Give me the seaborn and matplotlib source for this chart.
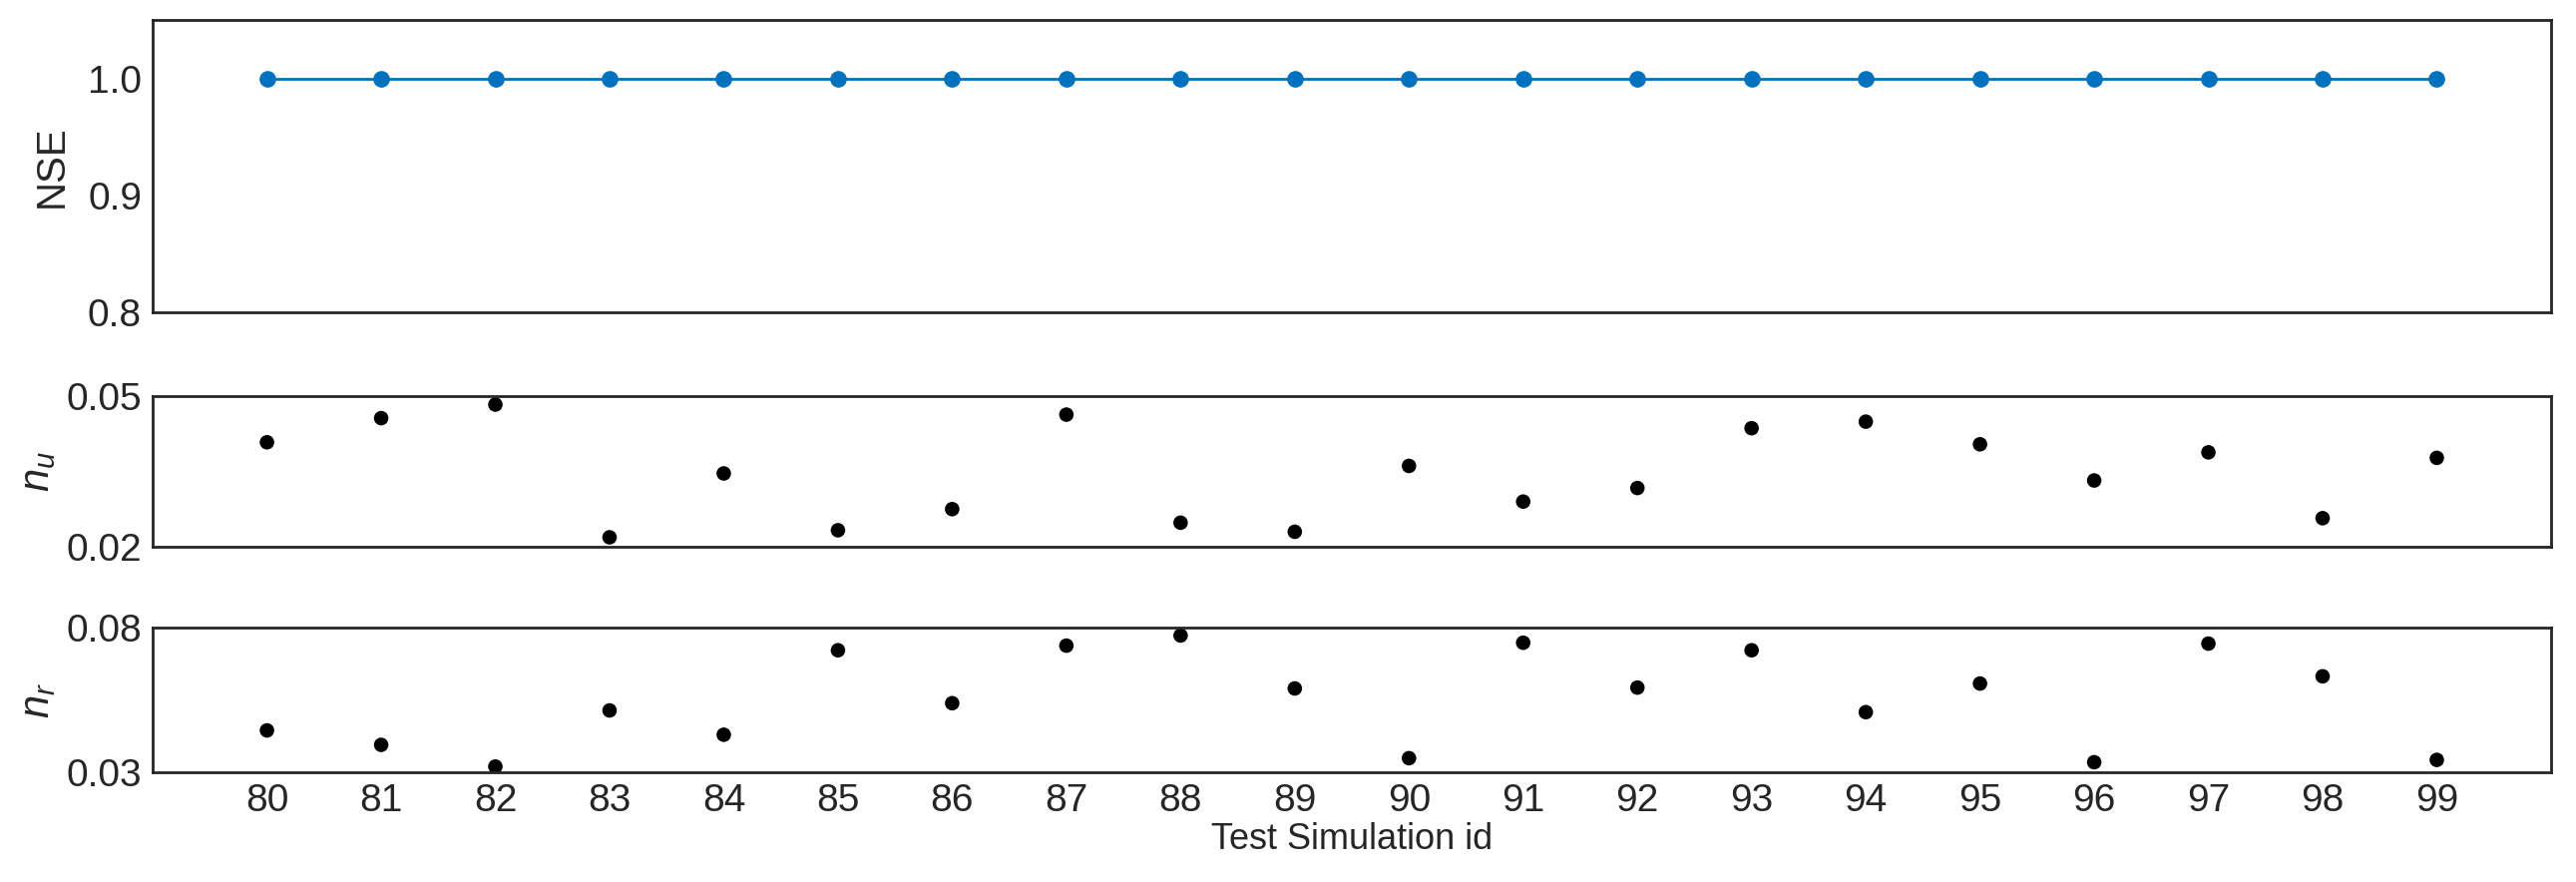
# Model performance across test simulations: NSE and the two roughness values
import pandas as pd
import matplotlib.pyplot as plt
import seaborn as sns

# Data
sim_ids = [80, 81, 82, 83, 84, 85, 86, 87, 88, 89,
           90, 91, 92, 93, 94, 95, 96, 97, 98, 99]
nse = [1.0, 1.0, 1.0, 1.0, 1.0, 1.0, 1.0, 1.0, 1.0, 1.0,
       1.0, 1.0, 1.0, 1.0, 1.0, 1.0, 1.0, 1.0, 1.0, 1.0]
n_u = [0.0408, 0.0456, 0.0483, 0.0219, 0.0346, 0.0233, 0.0275, 0.0463, 0.0248, 0.0230,
       0.0361, 0.0290, 0.0317, 0.0436, 0.0449, 0.0404, 0.0332, 0.0388, 0.0257, 0.0377]
n_r = [0.0446, 0.0396, 0.0321, 0.0515, 0.0431, 0.0723, 0.0540, 0.0739, 0.0774, 0.0591,
       0.0350, 0.0749, 0.0594, 0.0723, 0.0509, 0.0608, 0.0336, 0.0746, 0.0633, 0.0344]

df = pd.DataFrame({'id': sim_ids, 'NSE': nse, 'n_u': n_u, 'n_r': n_r})

sns.set_theme(style='white')
plt.rcParams['font.family'] = ['Liberation Sans', 'DejaVu Sans']
plt.rcParams['mathtext.fontset'] = 'custom'
plt.rcParams['mathtext.rm'] = 'Liberation Sans'
plt.rcParams['mathtext.it'] = 'Liberation Sans:italic'

fig = plt.figure(figsize=(25.82, 8.84), dpi=100)
ax_nse = fig.add_axes([0.0593, 0.646, 0.931, 0.331])
ax_nu = fig.add_axes([0.0593, 0.380, 0.931, 0.171])
ax_nr = fig.add_axes([0.0593, 0.124, 0.931, 0.164])

# NSE panel
sns.lineplot(data=df, x='id', y='NSE', marker='o', markersize=12, markeredgewidth=0,
             color='#0072BD', linewidth=2, ax=ax_nse)
# roughness panels
sns.scatterplot(data=df, x='id', y='n_u', color='black', s=110, edgecolor='none', ax=ax_nu)
sns.scatterplot(data=df, x='id', y='n_r', color='black', s=110, edgecolor='none', ax=ax_nr)

ax_nse.set_ylim(0.8, 1.05)
ax_nse.set_yticks([0.8, 0.9, 1.0])
ax_nse.set_yticklabels(['0.8', '0.9', '1.0'])
ax_nu.set_ylim(0.02, 0.05)
ax_nu.set_yticks([0.02, 0.05])
ax_nu.set_yticklabels(['0.02', '0.05'])
ax_nr.set_ylim(0.03, 0.08)
ax_nr.set_yticks([0.03, 0.08])
ax_nr.set_yticklabels(['0.03', '0.08'])

for ax in [ax_nse, ax_nu, ax_nr]:
    ax.set_xlim(79, 100)
    ax.set_xticks(sim_ids)
    ax.tick_params(length=0, labelsize=28, pad=8, colors='#262626')
    for sp in ax.spines.values():
        sp.set_color('#262626')
        sp.set_linewidth(2)
    ax.set_xlabel('')

ax_nse.set_xticklabels([])
ax_nu.set_xticklabels([])
ax_nr.set_xticklabels([str(i) for i in sim_ids])

ax_nse.set_ylabel('NSE', fontsize=29, color='#262626', labelpad=12)
ax_nu.set_ylabel(r'$n_u$', fontsize=30, color='#262626', labelpad=6)
ax_nr.set_ylabel(r'$n_r$', fontsize=30, color='#262626', labelpad=6)
ax_nr.set_xlabel('Test Simulation id', fontsize=26, color='#262626', labelpad=2)

plt.savefig('out.png', dpi=100)
